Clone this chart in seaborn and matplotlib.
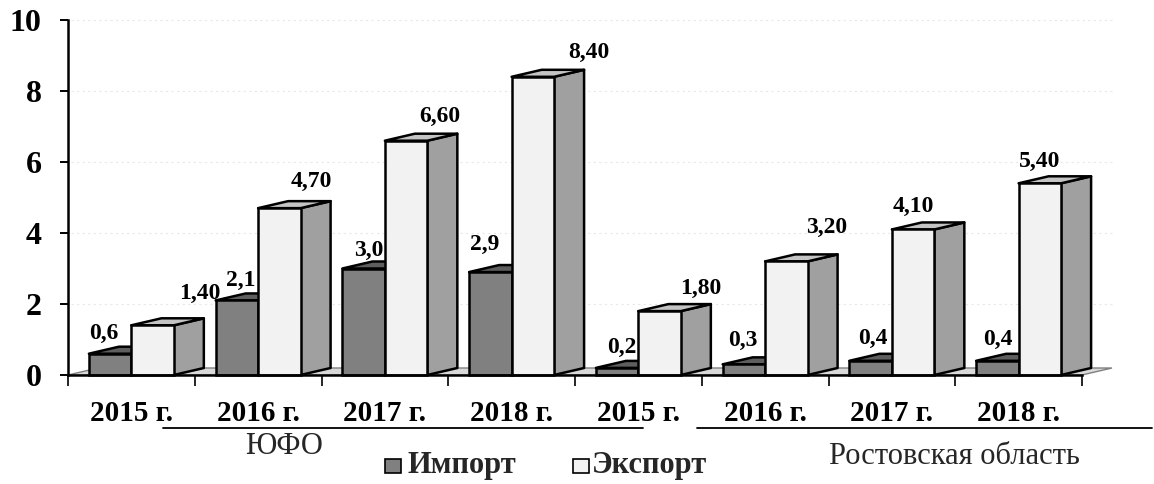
import numpy as np
import pandas as pd
import matplotlib
matplotlib.use("Agg")
import matplotlib.pyplot as plt
from matplotlib.patches import Polygon, Rectangle
from matplotlib.lines import Line2D
import seaborn as sns

# ---------------- data ----------------
years = ["2015 г.", "2016 г.", "2017 г.", "2018 г."]
regions = ["ЮФО", "Ростовская область"]
series = ["Импорт", "Экспорт"]
import_vals = [0.6, 2.1, 3.0, 2.9, 0.2, 0.3, 0.4, 0.4]
export_vals = [1.4, 4.7, 6.6, 8.4, 1.8, 3.2, 4.1, 5.4]
import_labels = ["0,6", "2,1", "3,0", "2,9", "0,2", "0,3", "0,4", "0,4"]
export_labels = ["1,40", "4,70", "6,60", "8,40", "1,80", "3,20", "4,10", "5,40"]

# label offsets (pixels, relative to front-top centre of each bar) - styling only
imp_off_x = [-6, 4, 5, -6, 5, -1, 2, 0]
imp_off_y = [20, 20, 18, 28, 20, 24, 22, 21]
exp_off_x = [47, 32, 34, 56, 41, 40, 0, 0]
exp_off_y = [32, 27, 24, 24, 23, 34, 23, 22]

cats = [f"{r}|{y}" for r in regions for y in years]
df = pd.DataFrame({
    "cat": cats * 2,
    "series": [series[0]] * 8 + [series[1]] * 8,
    "value": import_vals + export_vals,
})

# ---------------- style ----------------
W, H = 1154, 484
sns.set_theme(style="white")
plt.rcParams["font.family"] = ["Liberation Serif", "DejaVu Serif"]

c_imp_front, c_imp_top, c_imp_side = "#808080", "#5E5E5E", "#6E6E6E"
c_exp_front, c_exp_top, c_exp_side = "#F2F2F2", "#C4C4C4", "#A0A0A0"

fig = plt.figure(figsize=(W / 100, H / 100), dpi=100)
ax = fig.add_axes([68 / W, 1 - 375 / H, (1082 - 68) / W, (375 - 20) / H])

sns.barplot(data=df, x="cat", y="value", hue="series", order=cats,
            hue_order=series, palette=[c_imp_front, c_exp_front],
            width=0.67, gap=0, edgecolor="black", linewidth=1.8,
            legend=False, saturation=1, ax=ax)

ax.set_xlim(-0.5, 7.5)
ax.set_ylim(0, 10)

# depth of the pseudo-3D in data units
DX = 30 / ((1082 - 68) / 8)
DY = 7 / ((375 - 20) / 10)

# floor
floor = Polygon([(-0.5, 0), (7.5, 0), (7.5 + DX, DY), (-0.5 + DX, DY)],
                closed=True, facecolor="#D9D9D9", edgecolor="#808080",
                linewidth=1.0, zorder=1.5, clip_on=False)
ax.add_patch(floor)

# faint back-wall grid
for v in [2, 4, 6, 8, 10]:
    ax.plot([-0.5 + DX * 0.1, 7.5 + DX], [v, v], color="#E8E8E8",
            lw=0.8, ls=(0, (2, 3)), zorder=0.5, clip_on=False)

def add_3d(patch, ctop, cside, z):
    x0 = patch.get_x()
    w = patch.get_width()
    h = patch.get_height()
    x1 = x0 + w
    top = Polygon([(x0, h), (x1, h), (x1 + DX, h + DY), (x0 + DX, h + DY)],
                  closed=True, facecolor=ctop, edgecolor="black",
                  linewidth=1.8, zorder=z, clip_on=False, joinstyle="round")
    side = Polygon([(x1, 0), (x1 + DX, DY), (x1 + DX, h + DY), (x1, h)],
                   closed=True, facecolor=cside, edgecolor="black",
                   linewidth=1.8, zorder=z, clip_on=False, joinstyle="round")
    ax.add_patch(side)
    ax.add_patch(top)
    patch.set_zorder(z + 0.01)
    patch.set_clip_on(False)

imp_bars = list(ax.containers[0])
exp_bars = list(ax.containers[1])
for k in range(8):
    add_3d(imp_bars[k], c_imp_top, c_imp_side, 3 + k * 0.1)
    add_3d(exp_bars[k], c_exp_top, c_exp_side, 3.05 + k * 0.1)

PT = 72 / 100  # points per pixel
lab_font = dict(fontsize=17, fontweight="bold", ha="center", va="center",
                color="black")
for k in range(8):
    p = imp_bars[k]
    ax.annotate(import_labels[k], (p.get_x() + p.get_width() / 2, p.get_height()),
                xytext=(imp_off_x[k] * PT, imp_off_y[k] * PT),
                textcoords="offset points", zorder=10, annotation_clip=False,
                **lab_font)
    p = exp_bars[k]
    ax.annotate(export_labels[k], (p.get_x() + p.get_width() / 2, p.get_height()),
                xytext=(exp_off_x[k] * PT, exp_off_y[k] * PT),
                textcoords="offset points", zorder=10, annotation_clip=False,
                **lab_font)

# axes / ticks
for s in ["top", "right"]:
    ax.spines[s].set_visible(False)
for s in ["left", "bottom"]:
    ax.spines[s].set_color("black")
    ax.spines[s].set_linewidth(1.8)
    ax.spines[s].set_zorder(6)

ax.set_yticks([0, 2, 4, 6, 8, 10])
ax.set_yticklabels(["0", "2", "4", "6", "8", "10"], fontsize=23,
                   fontweight="bold")
ax.tick_params(axis="y", direction="out", length=6, width=1.4, pad=13,
               left=True, colors="black")

ax.set_xticks(range(8))
ax.set_xticklabels(years * 2, fontsize=21, fontweight="bold")
ax.set_xticks(np.arange(-0.5, 8, 1), minor=True)
ax.tick_params(axis="x", which="major", length=0, pad=18, colors="black")
ax.tick_params(axis="x", which="minor", direction="out", length=8,
               width=1.2, bottom=True, colors="black")
ax.set_xlabel("")
ax.set_ylabel("")
ax.grid(False)

# group lines and labels
def fx(px):
    return px / W

def fy(py):
    return 1 - py / H

fig.add_artist(Line2D([fx(163), fx(643)], [fy(428), fy(428)], color="black", lw=1.3))
fig.add_artist(Line2D([fx(697), fx(1152)], [fy(428), fy(428)], color="black", lw=1.3))
fig.text(fx(284), fy(447), regions[0], fontsize=22, ha="center", va="center")
fig.text(fx(954), fy(457), regions[1], fontsize=22, ha="center", va="center")

# legend
fig.add_artist(Rectangle((fx(385), fy(473)), 16 / W, 14 / H,
                         facecolor=c_imp_front, edgecolor="black", lw=1.2))
fig.text(fx(407), fy(466), series[0], fontsize=22, fontweight="bold",
         ha="left", va="center")
fig.add_artist(Rectangle((fx(573), fy(473)), 16 / W, 14 / H,
                         facecolor=c_exp_front, edgecolor="black", lw=1.2))
fig.text(fx(592), fy(466), series[1], fontsize=22, fontweight="bold",
         ha="left", va="center")

fig.savefig("out.png", dpi=100)
